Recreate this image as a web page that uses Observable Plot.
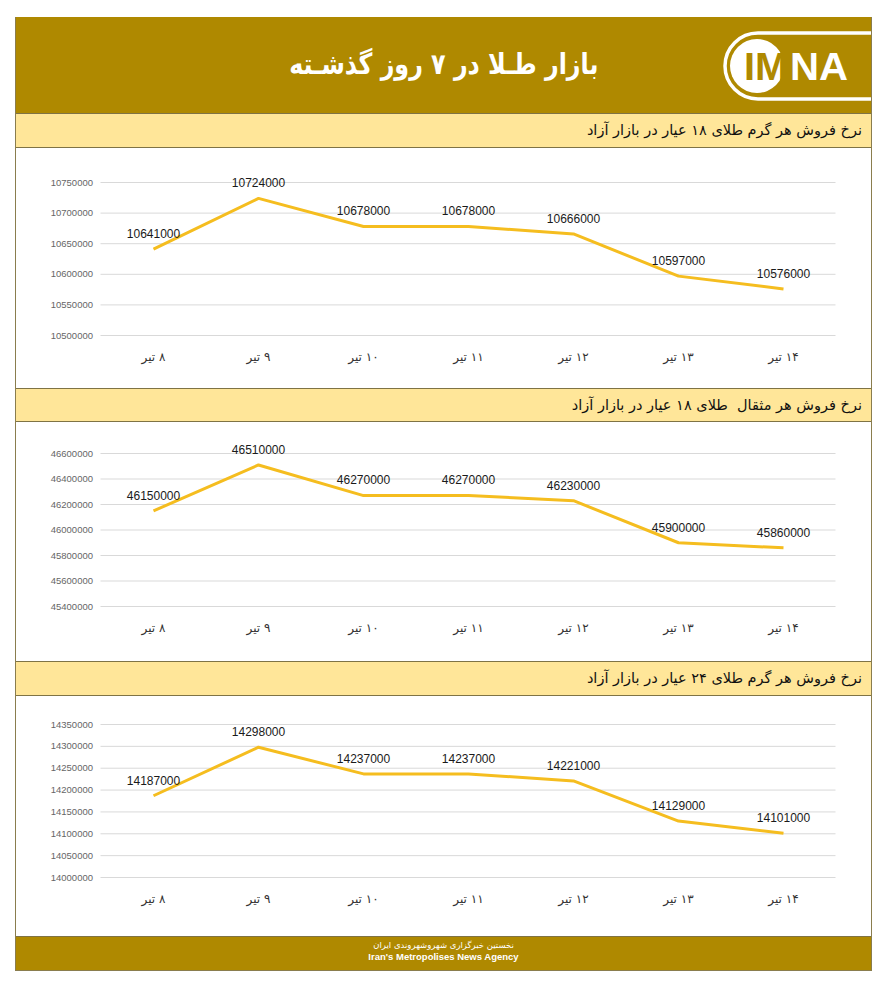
<!DOCTYPE html>
<html><head><meta charset="utf-8">
<script src="https://cdn.jsdelivr.net/npm/d3@7"></script>
<script src="https://cdn.jsdelivr.net/npm/@observablehq/plot@0.6"></script>
<style>
html,body{margin:0;padding:0;background:#fff;}
body{width:888px;height:1000px;position:relative;font-family:"DejaVu Sans",sans-serif;overflow:hidden;}
.abs{position:absolute;left:16px;width:855px;box-sizing:border-box;}
#frame{position:absolute;left:15px;top:17px;width:857px;height:954px;border:1px solid #8a7d4e;box-sizing:border-box;}
#header{top:17px;height:96px;background:#af8900;}
#title{position:absolute;left:0;width:855px;top:30px;text-align:center;color:#fff;font-weight:bold;font-size:29px;direction:rtl;transform:scaleX(0.82);transform-origin:429px 0;}
.bar{background:#ffe699;border-top:1px solid #7f7345;border-bottom:1px solid #7f7345;direction:rtl;font-size:14.5px;color:#111;padding-right:9px;line-height:32px;}
#footer{top:936px;height:34px;background:#af8900;color:#fff;text-align:center;border-top:1px solid #7f7345;}
.chart svg{display:block;}
</style></head><body>
<div id="frame"></div>
<div id="header" class="abs">
  <div id="title">بازار طـلا در ۷ روز گذشـته</div>
  <svg width="855" height="96" style="position:absolute;left:0;top:0">
    <path d="M855,16 L742,16 A33,33 0 0 0 742,82 L855,82" fill="none" stroke="#fff" stroke-width="3.5"/>
    <circle cx="741" cy="49" r="27" fill="#fff"/>
    <text x="728" y="63" font-family="Liberation Sans" font-weight="bold" font-size="38" fill="#af8900" textLength="44" lengthAdjust="spacingAndGlyphs">IM</text>
    <text x="774" y="63" font-family="Liberation Sans" font-weight="bold" font-size="38" fill="#fff" textLength="58" lengthAdjust="spacingAndGlyphs">NA</text>
  </svg>
</div>
<div class="abs bar" style="top:113px;height:35px;">نرخ فروش هر گرم طلای ۱۸ عیار در بازار آزاد</div>
<div id="c1" class="abs chart" style="top:148px;height:240px;"></div>
<div class="abs bar" style="top:388px;height:34px;">نرخ فروش هر مثقال&nbsp; طلای ۱۸ عیار در بازار آزاد</div>
<div id="c2" class="abs chart" style="top:422px;height:239px;"></div>
<div class="abs bar" style="top:661px;height:35px;">نرخ فروش هر گرم طلای ۲۴ عیار در بازار آزاد</div>
<div id="c3" class="abs chart" style="top:696px;height:240px;"></div>
<div id="footer" class="abs">
  <div style="font-size:8.5px;margin-top:3px;direction:rtl;">نخستین خبرگزاری شهروشهروندی ایران</div>
  <div style="font-family:'Liberation Sans Narrow','Liberation Sans';font-stretch:condensed;font-weight:bold;font-size:9.5px;margin-top:1px;">Iran's Metropolises News Agency</div>
</div>
<script>
const days = ["۸ تیر", "۹ تیر", "۱۰ تیر", "۱۱ تیر", "۱۲ تیر", "۱۳ تیر", "۱۴ تیر"];
const gram18 = [10641000, 10724000, 10678000, 10678000, 10666000, 10597000, 10576000];
const mesghal18 = [46150000, 46510000, 46270000, 46270000, 46230000, 45900000, 45860000];
const gram24 = [14187000, 14298000, 14237000, 14237000, 14221000, 14129000, 14101000];
const ticks1 = [10500000, 10550000, 10600000, 10650000, 10700000, 10750000];
const ticks2 = [45400000, 45600000, 45800000, 46000000, 46200000, 46400000, 46600000];
const ticks3 = [14000000, 14050000, 14100000, 14150000, 14200000, 14250000, 14300000, 14350000];

function chart(id, values, ticks, height, mt, mb) {
  const data = days.map((d, i) => ({day: d, v: values[i]}));
  const svg = Plot.plot({
    width: 855, height, marginLeft: 84.5, marginRight: 35.5, marginTop: mt, marginBottom: mb,
    style: {fontFamily: "Liberation Sans", background: "transparent", overflow: "visible"},
    x: {type: "point", domain: days, padding: 0.5, label: null},
    y: {domain: [ticks[0], ticks[ticks.length - 1]], label: null},
    marks: [
      Plot.gridY(ticks, {stroke: "#d9d9d9", strokeOpacity: 1, strokeWidth: 1}),
      Plot.axisY(ticks, {tickSize: 0, tickPadding: 8, fontSize: 9.5, fill: "#666", label: null, tickFormat: d => String(d)}),
      Plot.axisX({tickSize: 0, tickPadding: 17, fontSize: 12, fill: "#333", label: null, fontFamily: "DejaVu Sans"}),
      Plot.line(data, {x: "day", y: "v", stroke: "#f5bd1f", strokeWidth: 3, strokeLinecap: "butt"}),
      Plot.text(data, {x: "day", y: "v", text: d => String(d.v), dy: -15, fontSize: 12, fill: "#1a1a1a"})
    ]
  });
  svg.querySelectorAll('[aria-label="x-axis tick label"] text').forEach(t => t.setAttribute("direction", "rtl"));
  document.getElementById(id).appendChild(svg);
}
chart("c1", gram18, ticks1, 240, 34, 53);
chart("c2", mesghal18, ticks2, 239, 31, 55);
chart("c3", gram24, ticks3, 240, 28, 59);
</script>
</body></html>
